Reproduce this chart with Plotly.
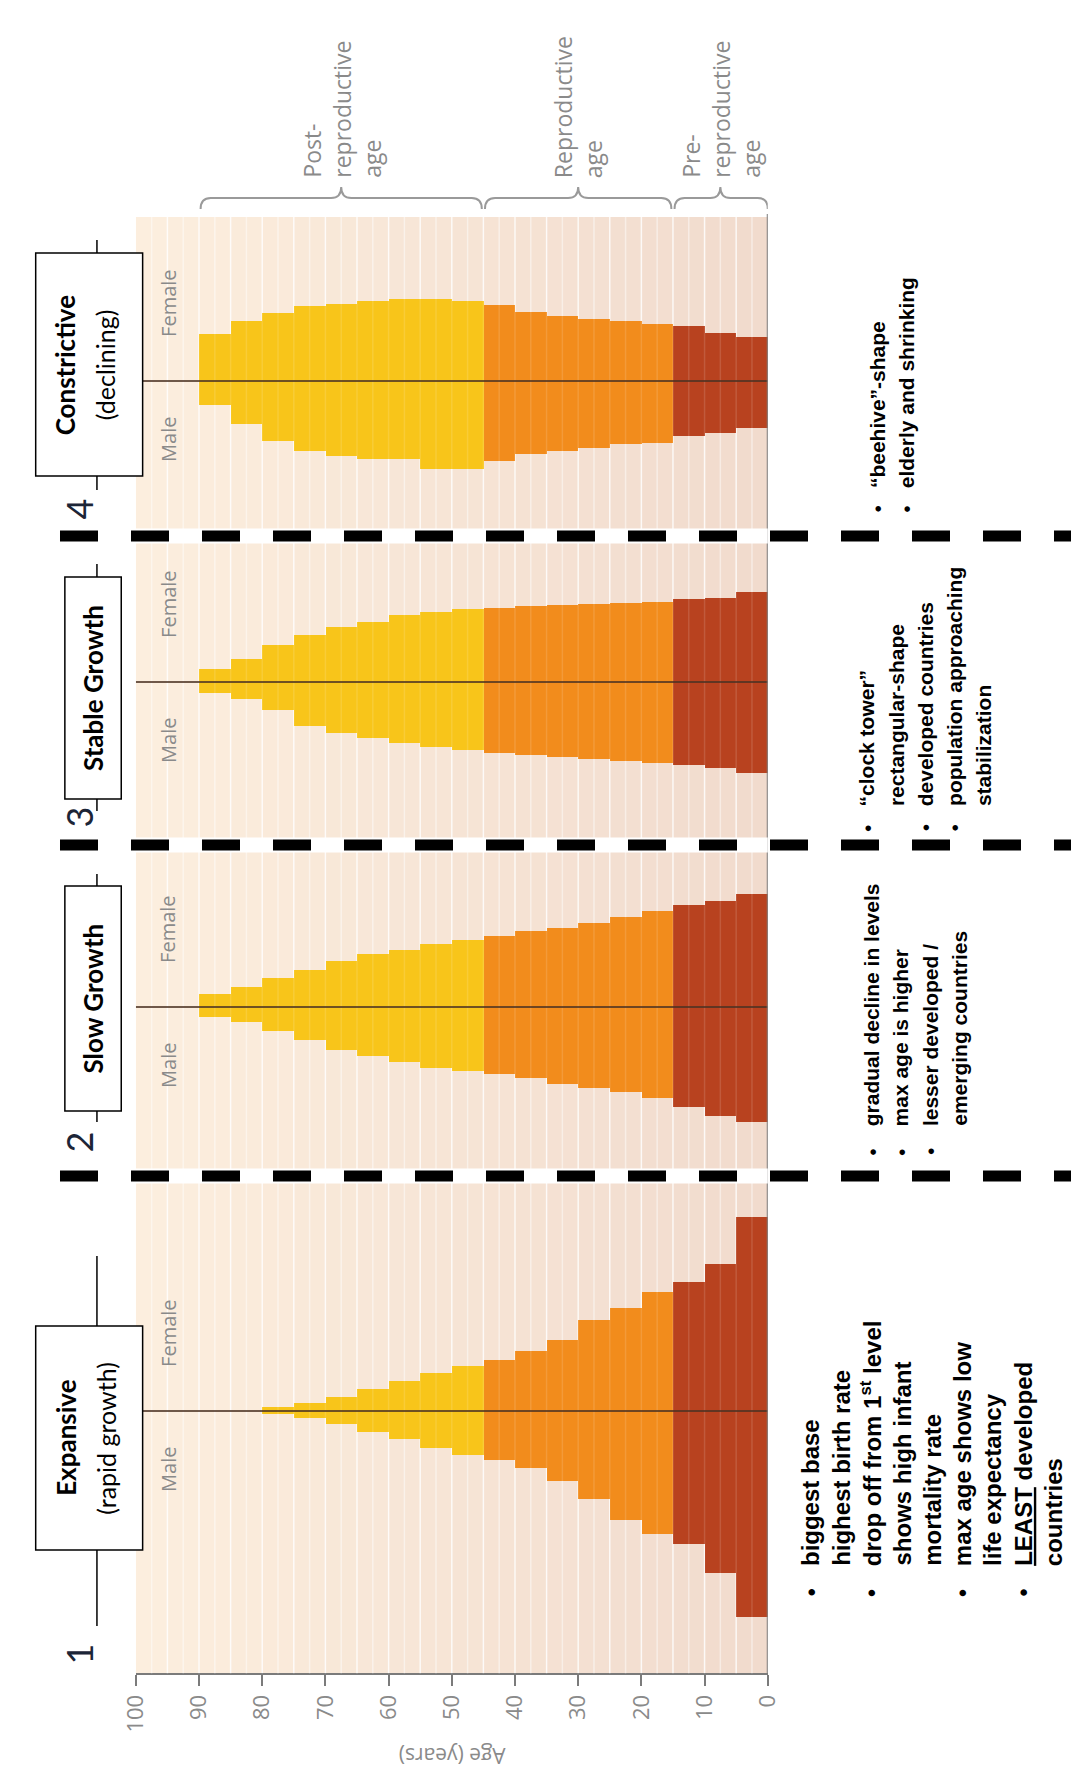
import plotly.graph_objects as go

# ---------------- data ----------------
age_starts = [0, 5, 10, 15, 20, 25, 30, 35, 40, 45, 50, 55, 60, 65, 70, 75, 80, 85]
age_labels = ["0-4", "5-9", "10-14", "15-19", "20-24", "25-29", "30-34", "35-39", "40-44",
              "45-49", "50-54", "55-59", "60-64", "65-69", "70-74", "75-79", "80-84", "85-89"]

# share of population (%) per 5-year age group, youngest first
expansive_female = [9.7, 7.35, 6.45, 5.95, 5.15, 4.55, 3.55, 3.0, 2.55, 2.25, 1.9, 1.5, 1.1, 0.7, 0.4, 0.2]
expansive_male = [10.3, 8.1, 6.65, 6.15, 5.45, 4.4, 3.5, 2.85, 2.45, 2.2, 1.85, 1.4, 1.05, 0.65, 0.35, 0.15]
slow_female = [5.65, 5.3, 5.1, 4.8, 4.5, 4.2, 3.95, 3.8, 3.55, 3.35, 3.15, 2.85, 2.65, 2.3, 1.85, 1.45, 1.0, 0.65]
slow_male = [5.75, 5.45, 5.0, 4.55, 4.25, 4.05, 3.85, 3.55, 3.35, 3.2, 3.05, 2.75, 2.45, 2.15, 1.65, 1.2, 0.75, 0.5]
stable_female = [4.5, 4.2, 4.15, 4.0, 3.95, 3.9, 3.85, 3.8, 3.7, 3.65, 3.5, 3.35, 3.0, 2.75, 2.35, 1.85, 1.15, 0.65]
stable_male = [4.55, 4.3, 4.15, 4.05, 3.95, 3.85, 3.75, 3.65, 3.55, 3.4, 3.25, 3.05, 2.8, 2.55, 2.2, 1.4, 0.85, 0.55]
constrictive_female = [2.2, 2.4, 2.75, 2.85, 3.0, 3.1, 3.25, 3.45, 3.8, 4.0, 4.1, 4.1, 4.0, 3.85, 3.75, 3.4, 3.0, 2.35]
constrictive_male = [2.35, 2.6, 2.75, 3.1, 3.15, 3.35, 3.5, 3.65, 4.0, 4.4, 4.4, 3.9, 3.9, 3.75, 3.5, 3.0, 2.15, 1.2]

stage_numbers = ["1", "2", "3", "4"]
stage_titles = ["Expansive", "Slow Growth", "Stable Growth", "Constrictive"]
stage_subtitles = ["(rapid growth)", "", "", "(declining)"]

age_ticks = [0, 10, 20, 30, 40, 50, 60, 70, 80, 90, 100]

phase_names = ["Post-<br>reproductive<br>age", "Reproductive<br>age", "Pre-<br>reproductive<br>age"]
phase_bounds = [(90, 45), (45, 15), (15, 0)]

notes_expansive = [("•", "biggest base"), ("", "highest birth rate"),
                   ("•", "drop off from 1<sup>st</sup> level"), ("", "shows high infant"),
                   ("", "mortality rate"), ("•", "max age shows low"), ("", "life expectancy"),
                   ("•", "<u>LEAST</u> developed"), ("", "countries")]
notes_slow = [("•", "gradual decline in levels"), ("•", "max age is higher"),
              ("•", "lesser developed /"), ("", "emerging countries")]
notes_stable = [("•", "\u201cclock tower\u201d"), ("", "rectangular-shape"),
                ("•", "developed countries"), ("•", "population approaching"), ("", "stabilization")]
notes_constrictive = [("•", "\u201cbeehive\u201d-shape"), ("•", "elderly and shrinking")]

pyramids = [
    (expansive_male, expansive_female),
    (slow_male, slow_female),
    (stable_male, stable_female),
    (constrictive_male, constrictive_female),
]

# ---------------- layout constants (pixels) ----------------
W, H = 1079, 1775
PLOT_L, PLOT_R, PLOT_T, PLOT_B = 114, 764, 209, 1666
CENTERS = [1403, 999, 674, 373]
HALF = 250          # px half height of each pyramid axis
PX_PER_UNIT = 20    # px per percent
SEPARATORS = [1168, 837, 528]

RED, ORANGE, YELLOW = "#B8421F", "#F28C1C", "#F8C51A"
GRAY_TXT = "#8a8a8a"


def px(x):
    return x / W


def py(y):
    return 1 - y / H


def color_for(a):
    if a < 15:
        return RED
    if a < 45:
        return ORANGE
    return YELLOW


fig = go.Figure()

for i, (male, female) in enumerate(pyramids):
    n = len(male)
    xs = [a + 2.5 for a in age_starts[:n]]
    cols = [color_for(a) for a in age_starts[:n]]
    yname = "y" if i == 0 else f"y{i + 1}"
    fig.add_trace(go.Bar(x=xs, y=female, width=5, marker=dict(color=cols, line=dict(width=0)),
                         yaxis=yname, xaxis="x", name=f"{stage_titles[i]} female",
                         customdata=age_labels[:n], showlegend=False))
    fig.add_trace(go.Bar(x=xs, y=[-v for v in male], width=5, marker=dict(color=cols, line=dict(width=0)),
                         yaxis=yname, xaxis="x", name=f"{stage_titles[i]} male",
                         customdata=age_labels[:n], showlegend=False))

shapes = []
annotations = []

# background bands (gradient) and stripes
left_c = (252, 238, 222)
right_c = (241, 219, 205)
for a in range(0, 100, 5):
    t = (a + 2.5) / 100
    c = tuple(int(round(right_c[k] + (left_c[k] - right_c[k]) * t)) for k in range(3))
    shapes.append(dict(type="rect", xref="x", yref="paper", x0=a, x1=a + 5,
                       y0=py(PLOT_B), y1=py(PLOT_T), fillcolor=f"rgb{c}",
                       line=dict(width=0), layer="below"))
for k in range(1, 40):
    a = k * 2.5
    alpha = 0.75 if k % 2 == 0 else 0.4
    shapes.append(dict(type="line", xref="x", yref="paper", x0=a, x1=a,
                       y0=py(PLOT_B), y1=py(PLOT_T),
                       line=dict(color=f"rgba(255,255,255,{alpha})", width=1.5), layer="below"))
    shapes.append(dict(type="line", xref="x", yref="paper", x0=a, x1=a,
                       y0=py(PLOT_B), y1=py(PLOT_T),
                       line=dict(color="rgba(255,255,255,0.13)", width=1.5), layer="above"))

# center lines
for i in range(4):
    yname = "y" if i == 0 else f"y{i + 1}"
    shapes.append(dict(type="line", xref="x", yref=yname, x0=100, x1=0, y0=0, y1=0,
                       line=dict(color="rgba(75,50,35,0.8)", width=2), layer="above"))

# right edge (age 0) line
shapes.append(dict(type="line", xref="x", yref="paper", x0=0, x1=0, y0=py(PLOT_B), y1=py(PLOT_T - 3),
                   line=dict(color="#7b7b7b", width=2), layer="above"))

# dashed separators
for s in SEPARATORS:
    shapes.append(dict(type="line", xref="paper", yref="paper", x0=px(PLOT_L), x1=px(PLOT_R),
                       y0=py(s), y1=py(s), line=dict(color="white", width=15), layer="above"))
    shapes.append(dict(type="line", xref="paper", yref="paper", x0=px(36), x1=px(1079),
                       y0=py(s), y1=py(s), line=dict(color="black", width=11, dash="38px,33px"),
                       layer="above"))

# braces above the plot
yl, yb, yp = py(190), py(201), py(179)
for (a0, a1), name in zip(phase_bounds, phase_names):
    b0, b1 = a0 - 0.25, a1 + 0.25 if a1 > 0 else a1
    mid = (a0 + a1) / 2
    r = 1.6
    path = (f"M {b0},{yb} Q {b0},{yl} {b0 - r},{yl} L {mid + r},{yl} Q {mid},{yl} {mid},{yp} "
            f"Q {mid},{yl} {mid - r},{yl} L {b1 + r},{yl} Q {b1},{yl} {b1},{yb}")
    shapes.append(dict(type="path", xref="x", yref="paper", path=path,
                       line=dict(color="#9a9a9a", width=2)))
    annotations.append(dict(x=mid, y=py(172), xref="x", yref="paper", text=name, textangle=-90,
                            xanchor="center", yanchor="bottom", align="left", showarrow=False,
                            font=dict(family="Open Sans", size=23, color=GRAY_TXT)))

# stage boxes
boxes = [(11, 121, 1318, 1542), (41, 99, 878, 1103), (41, 99, 569, 791), (11, 121, 245, 468)]
stub_lines = [((1248, 1318), (1542, 1618)), ((866, 878), (1103, 1114)),
              ((556, 569), (791, 803)), ((232, 245), (468, 482))]
num_y = [1646, 1134, 809, 501]
for i, (x0, x1, y0, y1) in enumerate(boxes):
    for (a, b) in stub_lines[i]:
        shapes.append(dict(type="line", xref="paper", yref="paper", x0=px(74), x1=px(74),
                           y0=py(a), y1=py(b), line=dict(color="black", width=1.5), layer="above"))
    shapes.append(dict(type="rect", xref="paper", yref="paper", x0=px(x0), x1=px(x1),
                       y0=py(y1), y1=py(y0), fillcolor="white",
                       line=dict(color="black", width=1.5), layer="above"))
    yc = (y0 + y1) / 2
    if stage_subtitles[i]:
        annotations.append(dict(x=px(42), y=py(yc), xref="paper", yref="paper",
                                text=f"<b>{stage_titles[i]}</b>", textangle=-90, showarrow=False,
                                xanchor="center", yanchor="middle",
                                font=dict(family="Lato", size=26, color="black")))
        annotations.append(dict(x=px(83), y=py(yc), xref="paper", yref="paper",
                                text=stage_subtitles[i], textangle=-90, showarrow=False,
                                xanchor="center", yanchor="middle",
                                font=dict(family="Lato", size=25, color="black")))
    else:
        annotations.append(dict(x=px((x0 + x1) / 2), y=py(yc), xref="paper", yref="paper",
                                text=f"<b>{stage_titles[i]}</b>", textangle=-90, showarrow=False,
                                xanchor="center", yanchor="middle",
                                font=dict(family="Lato", size=26, color="black")))
    annotations.append(dict(x=px(56), y=py(num_y[i]), xref="paper", yref="paper",
                            text=stage_numbers[i], textangle=-90, showarrow=False,
                            xanchor="center", yanchor="middle",
                            font=dict(family="Lato", size=36, color="#1c2537")))

# Male / Female labels
for c in CENTERS:
    annotations.append(dict(x=px(147), y=py(c + 58), xref="paper", yref="paper", text="Male",
                            textangle=-90, showarrow=False, xanchor="center", yanchor="middle",
                            font=dict(family="Open Sans", size=20, color=GRAY_TXT)))
    annotations.append(dict(x=px(147), y=py(c - 78), xref="paper", yref="paper", text="Female",
                            textangle=-90, showarrow=False, xanchor="center", yanchor="middle",
                            font=dict(family="Open Sans", size=20, color=GRAY_TXT)))

# bullet notes
note_blocks = [
    (notes_expansive, 808, 31.2, 1560, 1585, 24),
    (notes_slow, 871, 30, 1120, 1144, 21),
    (notes_stable, 866, 30, 800, 820, 21),
    (notes_constrictive, 877, 30, 482, 501, 21),
]
for notes, x0, dx, ytxt, ybul, fs in note_blocks:
    for j, (bul, txt) in enumerate(notes):
        xc = x0 + j * dx
        annotations.append(dict(x=px(xc), y=py(ytxt), xref="paper", yref="paper", text=f"<b>{txt}</b>",
                                textangle=-90, showarrow=False, xanchor="center", yanchor="bottom",
                                font=dict(family="Liberation Sans", size=fs, color="black")))
        if bul:
            annotations.append(dict(x=px(xc), y=py(ybul), xref="paper", yref="paper", text="•",
                                    textangle=-90, showarrow=False, xanchor="center", yanchor="middle",
                                    font=dict(family="Liberation Sans", size=fs, color="black")))

# axis title (upside down as in the reference)
annotations.append(dict(x=50, y=py(1748), xref="x", yref="paper", text="Age (years)", textangle=180,
                        showarrow=False, xanchor="center", yanchor="middle",
                        font=dict(family="Open Sans", size=21, color=GRAY_TXT)))

layout = dict(
    width=W, height=H, autosize=False,
    margin=dict(l=0, r=0, t=0, b=0),
    paper_bgcolor="white", plot_bgcolor="rgba(0,0,0,0)",
    barmode="relative", bargap=0,
    showlegend=False,
    xaxis=dict(domain=[px(PLOT_L), px(PLOT_R)], range=[100, 0], anchor="free", position=py(PLOT_B),
               tickvals=age_ticks, ticktext=[str(t) for t in age_ticks], tickangle=-90,
               ticks="outside", ticklen=11, tickwidth=2, tickcolor="#7b7b7b",
               showline=True, linecolor="#7b7b7b", linewidth=2, showgrid=False, zeroline=False,
               tickfont=dict(family="Open Sans", size=22, color=GRAY_TXT)),
    shapes=shapes, annotations=annotations,
)
for i, c in enumerate(CENTERS):
    key = "yaxis" if i == 0 else f"yaxis{i + 1}"
    layout[key] = dict(domain=[py(c + HALF), py(c - HALF)], range=[-HALF / PX_PER_UNIT, HALF / PX_PER_UNIT],
                       anchor="x", visible=False, showgrid=False, zeroline=False, fixedrange=True)

fig.update_layout(**layout)
fig.write_html("out.html")
